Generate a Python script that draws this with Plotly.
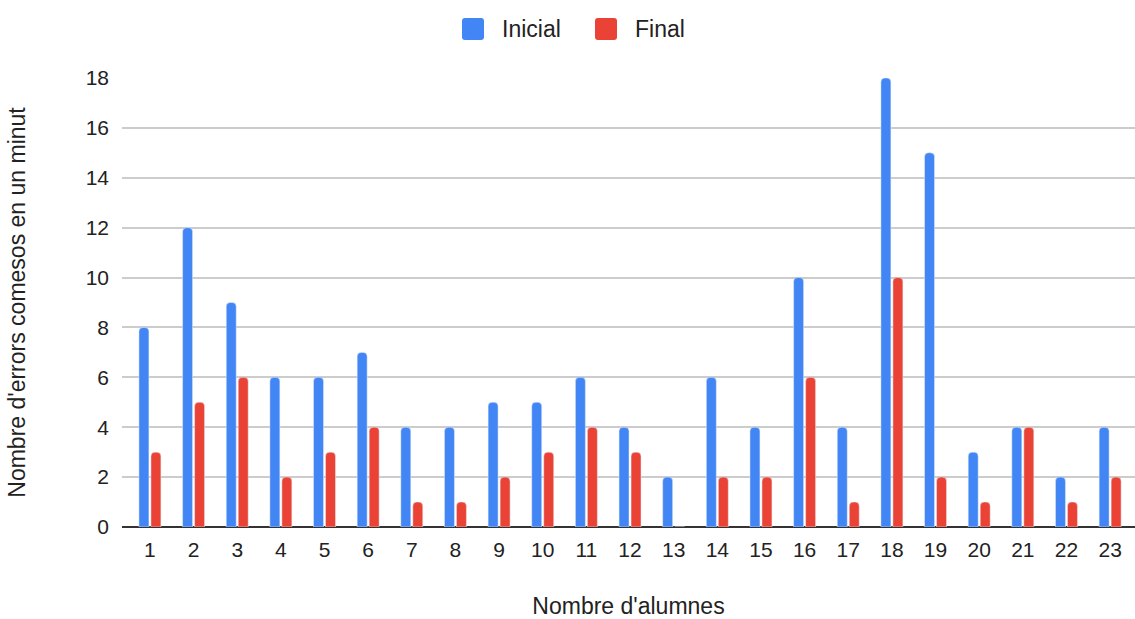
import plotly.graph_objects as go

alumnes = [str(i) for i in range(1, 24)]
inicial = [8, 12, 9, 6, 6, 7, 4, 4, 5, 5, 6, 4, 2, 6, 4, 10, 4, 18, 15, 3, 4, 2, 4]
final = [3, 5, 6, 2, 3, 4, 1, 1, 2, 3, 4, 3, 0, 2, 2, 6, 1, 10, 2, 1, 4, 1, 2]
y_ticks = [0, 2, 4, 6, 8, 10, 12, 14, 16, 18]
series = [("Inicial", inicial, "#4285f4"), ("Final", final, "#ea4335")]

font_family = "Liberation Sans, Arial, sans-serif"
W, H = 1135, 619
ML, MR, MT, MB = 122, 0, 78, 92
PW, PH = W - ML - MR, H - MT - MB


def px_x(x):
    """Convert a page pixel x to a paper fraction."""
    return (x - ML) / PW


def px_y(y):
    """Convert a page pixel y (from the top) to a paper fraction."""
    return (H - MB - y) / PH


fig = go.Figure()
for name, vals, color in series:
    fig.add_trace(go.Bar(x=alumnes, y=vals, name=name, marker_color=color,
                         showlegend=False))

# Legend drawn as rounded colour squares with labels, centred above the plot
legend_pos = [(462, 500), (595, 633)]
for (sx, tx), (name, _, color) in zip(legend_pos, series):
    x0, y0, s, r = sx, 18, 22, 3
    pts = [
        ("M", x0 + r, y0), ("L", x0 + s - r, y0), ("Q", x0 + s, y0), (" ", x0 + s, y0 + r),
        ("L", x0 + s, y0 + s - r), ("Q", x0 + s, y0 + s), (" ", x0 + s - r, y0 + s),
        ("L", x0 + r, y0 + s), ("Q", x0, y0 + s), (" ", x0, y0 + s - r),
        ("L", x0, y0 + r), ("Q", x0, y0), (" ", x0 + r, y0),
    ]
    path = "".join(f"{cmd}{px_x(a):.5f},{px_y(b):.5f}" for cmd, a, b in pts) + "Z"
    fig.add_shape(type="path", path=path, xref="paper", yref="paper",
                  fillcolor=color, line=dict(width=0), layer="above")
    fig.add_annotation(text=name, x=px_x(tx), y=px_y(29), xref="paper", yref="paper",
                       xanchor="left", yanchor="middle", showarrow=False,
                       font=dict(size=23, color="#222"))

fig.update_layout(
    width=W, height=H,
    margin=dict(l=ML, r=MR, t=MT, b=MB),
    paper_bgcolor="white", plot_bgcolor="white",
    barmode="group", bargap=0.45, bargroupgap=0.17,
    barcornerradius=4,
    font=dict(family=font_family, color="#222", size=21),
    xaxis=dict(title=dict(text="Nombre d'alumnes", font=dict(size=23), standoff=40),
               range=[-0.64, 22.57],
               showgrid=False, ticks="", tickfont=dict(size=21), ticklabelstandoff=8),
    yaxis=dict(title=dict(text="Nombre d'errors comesos en un minut", font=dict(size=23), standoff=53),
               range=[0, 18], tickvals=y_ticks, gridcolor="#cccccc", gridwidth=1.5,
               zeroline=True, zerolinecolor="#333", zerolinewidth=1.5,
               tickfont=dict(size=21), ticks="", ticklabelstandoff=12),
)

fig.write_html("out.html")
